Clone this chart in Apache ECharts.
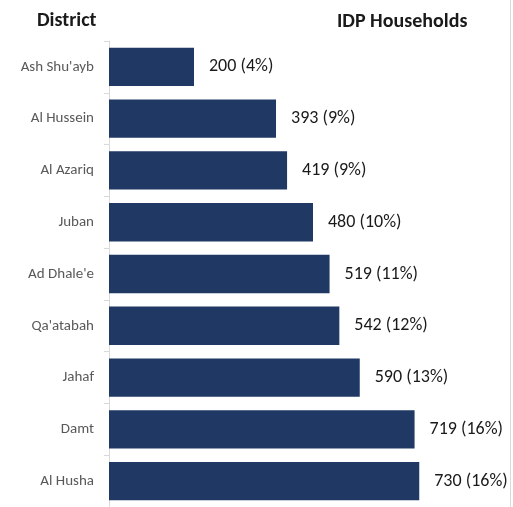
<!DOCTYPE html>
<html>
<head>
<meta charset="utf-8">
<script src="https://cdn.jsdelivr.net/npm/echarts@6/dist/echarts.min.js"></script>
<style>
  html, body { margin: 0; padding: 0; background: #fff; }
  #main { width: 513px; height: 507px; }
</style>
</head>
<body>
<div id="main"></div>
<script>
var districts = ['Ash Shu\'ayb', 'Al Hussein', 'Al Azariq', 'Juban', 'Ad Dhale\'e', 'Qa\'atabah', 'Jahaf', 'Damt', 'Al Husha'];
var households = [200, 393, 419, 480, 519, 542, 590, 719, 730];
var shares = [4, 9, 9, 10, 11, 12, 13, 16, 16];

var fontFam = 'Calibri, Carlito, "Open Sans", sans-serif';
var myChart = echarts.init(document.getElementById('main'));
var option = {
    animation: false,
    graphic: [
        {   // right border
            type: 'rect',
            shape: {x: 510, y: 0, width: 1, height: 507},
            style: {fill: '#d9d9d9'}
        },
        {
            type: 'text', x: 37, y: 21,
            style: {text: 'District', font: 'bold 20px ' + fontFam, fill: '#1a1a1a', verticalAlign: 'middle'}
        },
        {
            type: 'text', x: 337, y: 22,
            style: {text: 'IDP Households', font: 'bold 20px ' + fontFam, fill: '#1a1a1a', verticalAlign: 'middle'}
        }
    ],
    grid: {left: 109, right: 64, top: 41, height: 475},
    xAxis: {
        type: 'value',
        min: 0,
        max: 800,
        show: false
    },
    yAxis: {
        type: 'category',
        data: districts,
        inverse: true,
        axisLine: {show: true, lineStyle: {color: '#d9d9d9', width: 1}},
        axisTick: {show: true, length: 5, lineStyle: {color: '#d9d9d9'}},
        axisLabel: {color: '#595959', fontSize: 15, margin: 15, fontFamily: fontFam}
    },
    series: [{
        type: 'bar',
        data: households,
        barCategoryGap: '26%',
        itemStyle: {color: '#203864'},
        label: {
            show: true,
            position: 'right',
            distance: 15,
            color: '#1a1a1a',
            fontSize: 18,
            fontFamily: fontFam,
            formatter: function (p) {
                return p.value + ' (' + shares[p.dataIndex] + '%)';
            }
        }
    }]
};
myChart.setOption(option);
</script>
</body>
</html>
